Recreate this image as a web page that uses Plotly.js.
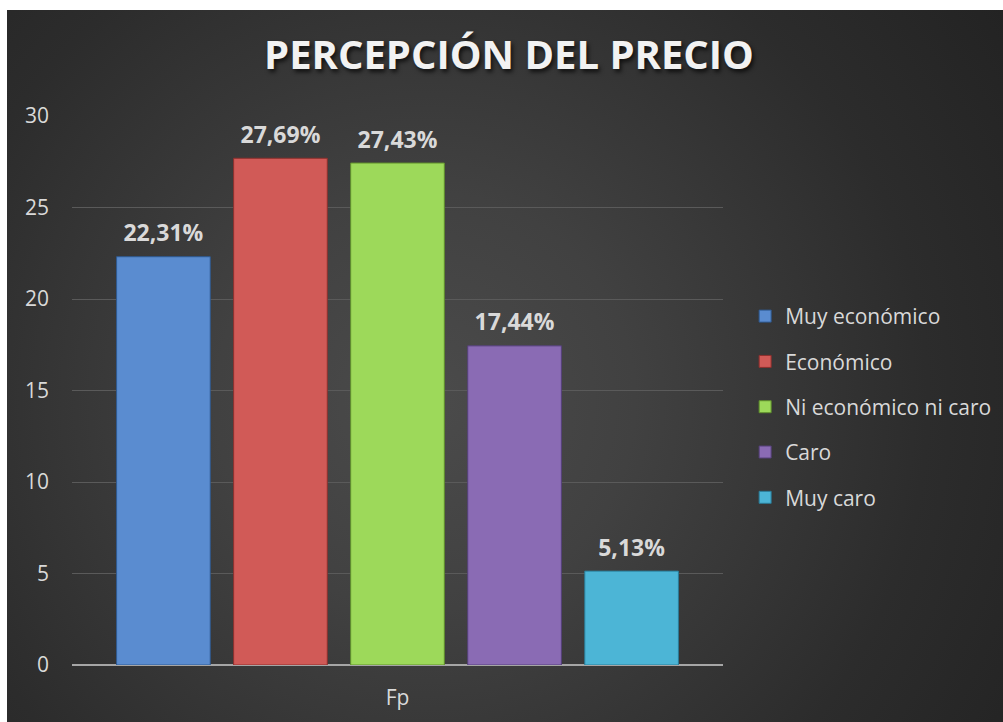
<!DOCTYPE html>
<html>
<head>
<meta charset="utf-8">
<script src="https://cdn.plot.ly/plotly-3.0.1.min.js"></script>
<style>
  html, body { margin: 0; padding: 0; background: #ffffff; }
  #chart {
    position: absolute; left: 7px; top: 10px; width: 996px; height: 712px;
    background: radial-gradient(circle farthest-corner at 42% 55%, #4b4b4b 0%, #414141 30%, #2c2c2c 72%, #232323 100%);
  }
</style>
</head>
<body>
<div id="chart"></div>
<script>
// ---- data ----
const category = ["Fp"];
const seriesNames = ["Muy económico", "Económico", "Ni económico ni caro", "Caro", "Muy caro"];
const seriesValues = [22.31, 27.69, 27.43, 17.44, 5.13];
const valueLabels = ["22,31%", "27,69%", "27,43%", "17,44%", "5,13%"];
const yTickValues = [0, 5, 10, 15, 20, 25, 30];
const chartTitle = "PERCEPCIÓN DEL PRECIO";

// ---- styles ----
const fillColors = ["#5a8cd0", "#d15a57", "#9dd95a", "#8a6bb4", "#4cb5d6"];
const edgeColors = ["#2f5a92", "#8e2f2d", "#5f8f2c", "#55407a", "#2a7c98"];
const FONT = "'Open Sans', 'DejaVu Sans', sans-serif";

const traces = [];
seriesNames.forEach((name, i) => {
  traces.push({
    type: "bar",
    name: name,
    x: category,
    y: [seriesValues[i]],
    offsetgroup: "g" + i,
    legendgroup: "lg" + i,
    marker: { color: fillColors[i], line: { color: edgeColors[i], width: 1 } },
    hoverinfo: "skip"
  });
});
seriesNames.forEach((name, i) => {
  traces.push({
    type: "scatter",
    mode: "markers+text",
    x: category,
    y: [seriesValues[i]],
    offsetgroup: "g" + i,
    text: [valueLabels[i]],
    textposition: "top center",
    textfont: { family: FONT, size: 23, color: "#d9d9d9", weight: "bold" },
    marker: { size: 14, opacity: 0, color: fillColors[i] },
    showlegend: false,
    cliponaxis: false,
    hoverinfo: "skip"
  });
});

const layout = {
  width: 996,
  height: 712,
  paper_bgcolor: "rgba(0,0,0,0)",
  plot_bgcolor: "rgba(0,0,0,0)",
  margin: { l: 65, r: 280, t: 106, b: 57, pad: 0, autoexpand: false },
  font: { family: FONT, color: "#d9d9d9", size: 21 },
  title: {
    text: chartTitle,
    x: 0.504, xref: "container", xanchor: "center",
    y: 0.937, yref: "container", yanchor: "middle",
    font: { family: FONT, size: 40, color: "#f2f2f2", weight: "bold", shadow: "2px 3px 4px rgba(0,0,0,0.7)" }
  },
  barmode: "group",
  bargap: 0.101,
  bargroupgap: 0.2,
  scattermode: "group",
  scattergap: 0.101,
  showlegend: true,
  legend: {
    x: 1.034, xanchor: "left",
    y: 0.47, yanchor: "middle",
    traceorder: "grouped",
    tracegroupgap: 15,
    bgcolor: "rgba(0,0,0,0)",
    font: { family: FONT, size: 21, color: "#d9d9d9" }
  },
  xaxis: {
    type: "category",
    range: [-0.5, 0.5],
    showgrid: false,
    showline: false,
    zeroline: false,
    ticks: "",
    ticklabelstandoff: 18,
    tickfont: { family: FONT, size: 21, color: "#d9d9d9" },
    fixedrange: true
  },
  yaxis: {
    range: [0, 30],
    tickvals: yTickValues,
    ticktext: yTickValues.map(String),
    showgrid: true,
    gridcolor: "#5a5a5a",
    gridwidth: 1,
    zeroline: true,
    zerolinecolor: "#a6a6a6",
    zerolinewidth: 2,
    showline: false,
    ticks: "",
    ticklabelstandoff: 22,
    tickfont: { family: FONT, size: 21, color: "#d9d9d9" },
    fixedrange: true
  }
};

Plotly.newPlot("chart", traces, layout, { displayModeBar: false, staticPlot: true });
</script>
</body>
</html>
